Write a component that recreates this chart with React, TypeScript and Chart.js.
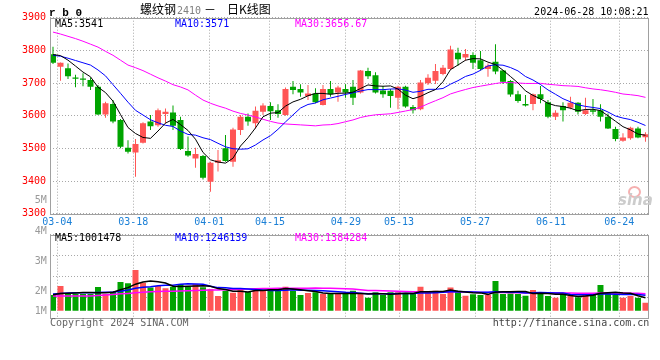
import React, { useEffect, useRef } from 'react';
import { Chart, registerables } from 'chart.js';
Chart.register(...registerables);

const FONT = "'DejaVu Sans Mono', monospace";
const CJK = "'Noto Sans CJK SC', sans-serif";

const dates = [
  '03-01','03-04','03-05','03-06','03-07','03-08','03-11','03-12','03-13','03-14','03-15','03-18','03-19','03-20','03-21','03-22','03-25','03-26','03-27','03-28','03-29',
  '04-01','04-02','04-03','04-08','04-09','04-10','04-11','04-12','04-15','04-16','04-17','04-18','04-19','04-22','04-23','04-24','04-25','04-26','04-29','04-30',
  '05-06','05-07','05-08','05-09','05-10','05-13','05-14','05-15','05-16','05-17','05-20','05-21','05-22','05-23','05-24','05-27','05-28','05-29','05-30','05-31',
  '06-03','06-04','06-05','06-06','06-07','06-11','06-12','06-13','06-14','06-17','06-18','06-19','06-20','06-21','06-24','06-25','06-26','06-27','06-28'
];
const tickDates = ['03-04','03-18','04-01','04-15','04-29','05-13','05-27','06-11','06-24'];

const opens = [3788,3750,3745,3717,3714,3709,3689,3604,3636,3587,3502,3487,3517,3582,3571,3605,3610,3587,3492,3469,3477,3398,3456,3500,3459,3556,3597,3577,3612,3630,3617,3602,3689,3682,3660,3668,3633,3682,3671,3682,3689,3671,3737,3724,3677,3676,3655,3689,3627,3620,3699,3707,3728,3743,3793,3778,3786,3770,3743,3765,3738,3706,3666,3636,3636,3666,3641,3597,3630,3624,3640,3605,3617,3617,3597,3559,3523,3531,3561,3534];
const closes = [3762,3762,3721,3713,3710,3689,3604,3638,3582,3505,3490,3513,3577,3568,3617,3612,3569,3498,3478,3483,3410,3456,3464,3461,3558,3597,3582,3615,3631,3614,3605,3682,3679,3671,3668,3641,3682,3666,3686,3671,3655,3738,3721,3671,3666,3660,3689,3628,3617,3702,3716,3737,3747,3803,3773,3789,3762,3743,3753,3735,3704,3665,3645,3631,3666,3651,3597,3609,3617,3640,3612,3617,3612,3597,3561,3529,3533,3563,3533,3543];
const highs = [3811,3763,3760,3725,3730,3717,3694,3643,3648,3590,3525,3529,3580,3602,3622,3622,3631,3597,3536,3502,3480,3459,3495,3541,3563,3602,3607,3628,3638,3641,3635,3686,3706,3696,3694,3684,3694,3706,3692,3696,3709,3740,3747,3733,3691,3682,3692,3692,3633,3709,3727,3758,3755,3814,3808,3804,3794,3798,3760,3819,3740,3709,3676,3663,3668,3691,3648,3617,3641,3658,3641,3655,3651,3635,3607,3566,3546,3566,3566,3549];
const lows = [3758,3707,3712,3687,3690,3679,3602,3594,3577,3500,3484,3413,3515,3556,3566,3577,3556,3495,3474,3441,3405,3367,3429,3459,3444,3541,3569,3561,3602,3587,3594,3600,3666,3658,3648,3638,3631,3658,3643,3655,3633,3668,3712,3668,3655,3624,3620,3624,3607,3617,3694,3697,3724,3740,3753,3768,3743,3738,3719,3727,3697,3658,3640,3628,3617,3638,3592,3587,3582,3620,3604,3602,3604,3582,3559,3522,3520,3526,3531,3520];

const ma5 = [3787,3784,3770,3752,3733.6,3719,3687.4,3670.8,3644.6,3603.6,3563.8,3545.6,3533.4,3530.6,3553,3577.4,3588.6,3572.8,3554.8,3528,3487.6,3465,3458.2,3454.8,3469.8,3507.2,3532.4,3562.6,3596.6,3607.8,3609.4,3629.4,3642.2,3650.2,3661,3668.2,3668.2,3665.6,3668.6,3669.2,3672,3683.2,3694.2,3691.2,3690.2,3691.2,3681.4,3662.8,3652,3659.2,3670.4,3680,3703.8,3741,3755.2,3769.8,3774.8,3774,3764,3756.4,3739.4,3720,3700.4,3676,3662.2,3651.6,3638,3630.8,3628,3622.8,3615,3619,3619.6,3615.6,3599.8,3583.2,3566.4,3556.6,3543.8,3540.2];
const ma10 = [3785,3782,3776,3769,3762,3755,3740,3722,3695,3668.6,3641.4,3616.5,3602.1,3587.6,3578.3,3570.6,3567.1,3553.1,3542.7,3540.5,3532.5,3526.8,3515.5,3504.8,3498.9,3497.4,3498.7,3510.4,3525.7,3538.8,3558.3,3580.9,3602.4,3623.4,3634.4,3638.8,3648.8,3653.9,3659.4,3665.1,3670.1,3675.7,3679.9,3679.9,3679.7,3681.6,3682.3,3678.5,3671.6,3674.7,3680.8,3680.7,3683.3,3696.5,3707.2,3720.1,3727.4,3738.9,3752.5,3755.8,3754.6,3747.4,3737.2,3720,3709.3,3695.5,3679,3665.6,3652,3642.5,3633.3,3628.5,3625.2,3621.8,3611.3,3599.1,3592.7,3588.1,3579.7,3570];
const ma30 = [3856,3850,3843,3836,3828,3819,3810,3797,3785,3770,3755,3747,3738,3727,3716,3706,3695,3688,3679,3663,3648,3638,3630,3623,3614,3607,3602,3596,3589,3582.6,3577.4,3574.7,3573.3,3571.9,3570.5,3568.9,3571.5,3572.5,3575.9,3581.5,3587,3594.5,3599.3,3602.7,3604.3,3605.9,3609.9,3614.3,3618.9,3626.2,3636.4,3645.8,3655.2,3666.6,3673.8,3680.2,3686.2,3690.4,3694.5,3698.5,3701.8,3701.3,3700.1,3698.8,3698.7,3699.1,3696.2,3694.3,3692,3691,3689.6,3685.5,3681.9,3679.4,3675.9,3671.6,3666.4,3664.2,3661.4,3656.1];

// volume in millions
const volumes = [1.28,2.02,1.36,1.36,1.36,1.36,1.93,1.36,1.55,2.34,2.23,3.32,2.28,1.88,2.02,1.82,1.96,2.18,1.96,2.18,1.91,1.74,1.19,1.63,1.47,1.85,1.53,1.77,1.63,1.77,1.85,1.96,1.63,1.28,1.44,1.50,1.36,1.36,1.36,1.36,1.63,1.36,1.06,1.50,1.28,1.50,1.50,1.36,1.36,1.96,1.55,1.63,1.36,1.88,1.55,1.22,1.34,1.28,1.28,2.43,1.36,1.41,1.36,1.22,1.69,1.47,1.19,1.06,1.28,1.19,1.09,1.36,1.36,2.09,1.47,1.28,1.06,1.19,1.06,0.65];
const vma5 = [1.30,1.40,1.42,1.45,1.48,1.49,1.47,1.47,1.51,1.71,1.88,2.16,2.34,2.41,2.35,2.26,1.99,1.97,1.99,2.02,2.04,1.99,1.80,1.73,1.59,1.58,1.53,1.65,1.65,1.71,1.71,1.80,1.77,1.70,1.63,1.56,1.44,1.39,1.40,1.39,1.41,1.41,1.35,1.38,1.37,1.34,1.37,1.43,1.40,1.54,1.55,1.57,1.57,1.68,1.59,1.53,1.47,1.45,1.33,1.51,1.54,1.55,1.57,1.56,1.41,1.43,1.39,1.33,1.34,1.24,1.16,1.20,1.26,1.42,1.47,1.51,1.45,1.42,1.21,1.05];
const vma10 = [1.36,1.40,1.44,1.46,1.47,1.47,1.48,1.50,1.52,1.59,1.69,1.82,1.91,1.96,2.03,2.07,2.08,2.16,2.20,2.18,2.15,1.99,1.88,1.86,1.80,1.81,1.76,1.72,1.69,1.65,1.64,1.67,1.71,1.67,1.67,1.64,1.62,1.58,1.55,1.51,1.49,1.43,1.37,1.39,1.38,1.38,1.39,1.39,1.39,1.45,1.44,1.47,1.50,1.54,1.57,1.54,1.52,1.51,1.51,1.55,1.53,1.51,1.51,1.45,1.46,1.48,1.47,1.45,1.45,1.32,1.30,1.29,1.29,1.38,1.36,1.34,1.32,1.34,1.32,1.26];
const vma30 = [1.20,1.20,1.20,1.20,1.20,1.20,1.24,1.28,1.32,1.37,1.41,1.46,1.50,1.55,1.57,1.58,1.59,1.61,1.63,1.65,1.67,1.68,1.69,1.70,1.72,1.74,1.76,1.78,1.80,1.81,1.83,1.83,1.83,1.83,1.83,1.84,1.82,1.82,1.81,1.78,1.76,1.70,1.65,1.64,1.62,1.61,1.59,1.56,1.54,1.54,1.52,1.52,1.53,1.54,1.54,1.52,1.51,1.49,1.48,1.50,1.49,1.47,1.46,1.46,1.47,1.47,1.46,1.45,1.45,1.44,1.42,1.42,1.43,1.45,1.46,1.45,1.44,1.43,1.42,1.38];

const volAxisLabels = ['5M', '4M', '3M', '2M', '1M'];
const volLabelTops = [194, 224.5, 254.7, 284.7, 304.7];

const UP = '#ff5555';
const DOWN = '#00a400';
const GRID = '#a8a8a8';
const FRAME = '#a0a0a0';

const frame = {
  id: 'frame',
  afterDraw(chart: any) {
    const { ctx, chartArea: a } = chart;
    ctx.save();
    ctx.strokeStyle = FRAME;
    ctx.lineWidth = 1;
    ctx.strokeRect(Math.round(a.left) + 0.5, Math.round(a.top) + 0.5, Math.round(a.right - a.left) - 1, Math.round(a.bottom - a.top));
    ctx.restore();
  },
};

const idx = dates.map((_, i) => i);
const candleColors = idx.map((i) => (closes[i] >= opens[i] ? UP : DOWN));
const tickIdx = tickDates.map((d) => dates.indexOf(d));

const xCandle = { type: 'linear', display: false, offset: false, min: -0.4, max: 79.51 };
const xGrid = (showLabels: boolean) => ({
  type: 'linear',
  position: 'bottom',
  offset: false,
  min: 0.04,
  max: 78.95,
  afterBuildTicks: (s: any) => {
    s.ticks = tickIdx.map((v) => ({ value: v }));
  },
  afterFit: (s: any) => {
    s.height = showLabels ? 18.3 : 0;
  },
  ticks: {
    display: showLabels,
    autoSkip: false,
    maxRotation: 0,
    padding: 3,
    color: '#1a7fd6',
    font: { family: FONT, size: 10 },
    callback: (v: number) => dates[v],
  },
  grid: { color: GRID, drawTicks: false, lineWidth: 1, offset: false },
  border: { display: false, dash: [1, 2] },
});

const lineDs = (data: number[], color: string, width: number) => ({
  type: 'line',
  xAxisID: 'x',
  data: idx.map((i) => ({ x: i, y: data[i] })),
  borderColor: color,
  borderWidth: width,
  pointRadius: 0,
  tension: 0,
  order: 0,
});

export default function App() {
  const priceRef = useRef<HTMLCanvasElement>(null);
  const volRef = useRef<HTMLCanvasElement>(null);

  useEffect(() => {
    const price = new Chart(priceRef.current as HTMLCanvasElement, {
      type: 'bar',
      data: {
        datasets: [
          lineDs(ma5, '#000000', 1),
          lineDs(ma10, '#0000ff', 1),
          lineDs(ma30, '#ff00ff', 1),
          {
            type: 'bar',
            xAxisID: 'x',
            data: idx.map((i) => ({ x: i, y: [opens[i], closes[i]] })),
            backgroundColor: candleColors,
            barThickness: 6,
            minBarLength: 1,
            grouped: false,
            inflateAmount: 0,
            order: 1,
          },
          {
            type: 'bar',
            xAxisID: 'x',
            data: idx.map((i) => ({ x: i, y: [lows[i], highs[i]] })),
            backgroundColor: candleColors,
            barThickness: 1,
            grouped: false,
            inflateAmount: 0,
            order: 2,
          },
        ] as any,
      },
      options: {
        responsive: false,
        animation: false,
        events: [],
        layout: { padding: { left: 0, right: 10.7, top: 17.7, bottom: 0 } },
        plugins: { legend: { display: false }, tooltip: { enabled: false } },
        scales: {
          x: xCandle,
          xg: xGrid(true),
          y: {
            min: 3300,
            max: 3900,
            afterFit: (s: any) => {
              s.width = 50;
            },
            ticks: { stepSize: 100, color: '#ff0000', padding: 4, font: { family: FONT, size: 10 }, callback: (v: number) => String(v) },
            grid: { color: GRID, drawTicks: false },
            border: { display: false, dash: [1, 2] },
          },
        } as any,
      },
      plugins: [frame],
    });

    const vol = new Chart(volRef.current as HTMLCanvasElement, {
      type: 'bar',
      data: {
        datasets: [
          lineDs(vma5, '#000000', 1.5),
          lineDs(vma10, '#0000ff', 1.5),
          lineDs(vma30, '#ff00ff', 1.5),
          {
            type: 'bar',
            xAxisID: 'x',
            data: idx.map((i) => ({ x: i, y: volumes[i] })),
            backgroundColor: candleColors,
            barThickness: 6,
            grouped: false,
            inflateAmount: 0,
            order: 1,
          },
        ] as any,
      },
      options: {
        responsive: false,
        animation: false,
        events: [],
        layout: { padding: { left: 0, right: 10.7, top: 6.7, bottom: 42 } },
        plugins: { legend: { display: false }, tooltip: { enabled: false } },
        scales: {
          x: xCandle,
          xg: xGrid(false),
          y: {
            min: -0.6,
            max: 6.2,
            afterFit: (s: any) => {
              s.width = 50;
            },
            ticks: { display: false, stepSize: 1.7 },
            grid: { color: GRID, drawTicks: false },
            border: { display: false, dash: [1, 2] },
          },
        } as any,
      },
      plugins: [frame],
    });

    return () => {
      price.destroy();
      vol.destroy();
    };
  }, []);

  const txt = (style: React.CSSProperties) => ({
    position: 'absolute' as const,
    whiteSpace: 'nowrap' as const,
    fontFamily: FONT,
    fontSize: 10,
    lineHeight: '12px',
    ...style,
  });

  return (
    <div style={{ position: 'absolute', left: 0, top: 0, width: 660, height: 360, background: '#ffffff', overflow: 'hidden' }}>
      <canvas ref={priceRef} width={660} height={232} style={{ position: 'absolute', left: 0, top: 0 }} />
      <canvas ref={volRef} width={660} height={132} style={{ position: 'absolute', left: 0, top: 228 }} />

      <div style={txt({ left: 49, top: 6.5, fontFamily: "'Liberation Mono', monospace", fontWeight: 'bold', fontSize: 11 })}>r b 0</div>
      <div style={txt({ left: 140, top: 3, fontFamily: CJK, fontSize: 12 })}>螺纹钢</div>
      <div style={txt({ left: 177, top: 4.5, color: '#808080' })}>2410</div>
      <div style={txt({ left: 204, top: 3, fontFamily: CJK, fontSize: 12 })}>－</div>
      <div style={txt({ left: 227, top: 3, fontFamily: CJK, fontSize: 12 })}>日K线图</div>
      <div style={txt({ right: 11.5, top: 6 })}>2024-06-28 10:08:21</div>

      <div style={txt({ left: 55, top: 17.5, color: '#000000' })}>MA5:3541</div>
      <div style={txt({ left: 175, top: 17.5, color: '#0000ff' })}>MA10:3571</div>
      <div style={txt({ left: 295, top: 17.5, color: '#ff00ff' })}>MA30:3656.67</div>

      {volAxisLabels.map((l, i) => (
        <div key={l} style={txt({ left: 0, width: 46.7, textAlign: 'right', top: volLabelTops[i], color: '#999999' })}>{l}</div>
      ))}

      <div style={txt({ left: 55, top: 231.5, color: '#000000' })}>MA5:1001478</div>
      <div style={txt({ left: 175, top: 231.5, color: '#0000ff' })}>MA10:1246139</div>
      <div style={txt({ left: 295, top: 231.5, color: '#ff00ff' })}>MA30:1384284</div>

      <div style={txt({ left: 50, top: 317, color: '#666666' })}>Copyright 2024 SINA.COM</div>
      <div style={txt({ right: 10.7, top: 317, color: '#444444' })}>http://finance.sina.com.cn</div>

      <div style={{ position: 'absolute', left: 628, top: 186, width: 9, height: 8, borderRadius: '50%', border: '2px solid #f6b0b0' }} />
      <div style={txt({ left: 618, top: 193, fontFamily: "'DejaVu Sans', sans-serif", fontStyle: 'italic', fontWeight: 'bold', fontSize: 15, lineHeight: '14px', color: '#cccccc' })}>sina</div>
    </div>
  );
}
